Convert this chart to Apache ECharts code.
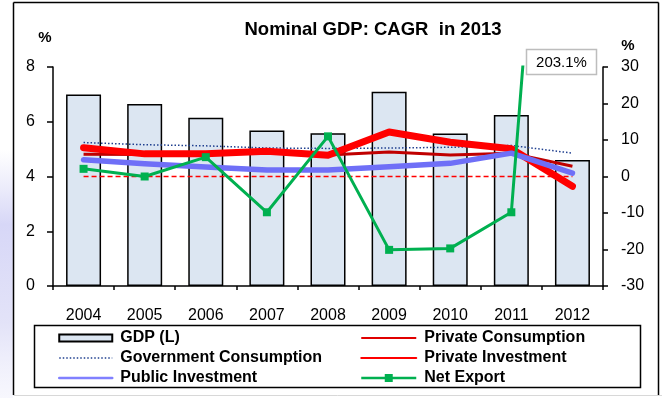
<!DOCTYPE html>
<html>
<head>
<meta charset="utf-8">
<script src="https://cdn.jsdelivr.net/npm/echarts@6/dist/echarts.min.js"></script>
<style>
  html, body { margin: 0; padding: 0; background: #fff; }
  #chart { width: 662px; height: 398px; }
</style>
</head>
<body>
<div id="chart"></div>
<script>
// Years on the horizontal axis
const years = ['2004', '2005', '2006', '2007', '2008', '2009', '2010', '2011', '2012'];

// GDP growth, left axis (%)
const gdp = [7.0, 6.65, 6.15, 5.68, 5.58, 7.1, 5.57, 6.25, 4.6];

// Components, right axis (%)
const govConsumption = [9.3, 8.7, 8.4, 7.8, 7.7, 7.8, 8.0, 8.5, 6.4];
const privConsumption = [6.1, 6.0, 6.0, 6.6, 5.9, 6.7, 5.9, 6.4, 2.8];
const privInvestment = [7.9, 6.2, 6.2, 6.9, 5.8, 12.2, 9.4, 7.6, -2.7];
const pubInvestment = [4.6, 3.5, 2.6, 1.8, 1.8, 2.7, 3.6, 6.4, 0.9];
const netExport = [2.1, 0.0, 5.3, -9.8, 11.0, -20.1, -19.7, -9.8, 203.1];
const zeroRef = [0, 0, 0, 0, 0, 0, 0, 0, 0];

// Axis ticks
const leftTicks = { min: 0, max: 8, interval: 2 };
const rightTicks = { min: -30, max: 30, interval: 10 };

const chart = echarts.init(document.getElementById('chart'), null, { renderer: 'canvas' });

const FONT = 'Liberation Sans, Arial, sans-serif';
const axisText = { color: '#000', fontSize: 16, fontFamily: FONT };
const legendText = { color: '#000', fontSize: 16, fontWeight: 'bold', fontFamily: FONT, lineHeight: 20, padding: [0, 0, 0, 3] };
const noMarker = { opacity: 0 };

const outlierIdx = netExport.length - 1;

chart.setOption({
  animation: false,
  backgroundColor: '#fff',
  textStyle: { fontFamily: FONT },
  grid: { left: 53, right: 59, top: 67, bottom: 112, containLabel: false },
  xAxis: {
    type: 'category',
    data: years,
    boundaryGap: true,
    axisLine: { lineStyle: { color: '#000', width: 1.5 } },
    axisTick: { show: true, alignWithLabel: false, length: 4, lineStyle: { color: '#000', width: 1.5 } },
    axisLabel: Object.assign({ margin: 22, interval: 0 }, axisText),
    splitLine: { show: false }
  },
  yAxis: [
    {
      type: 'value',
      position: 'left',
      min: leftTicks.min, max: leftTicks.max, interval: leftTicks.interval,
      axisLine: { show: true, lineStyle: { color: '#000', width: 1.5 } },
      axisTick: { show: true, length: 6, lineStyle: { color: '#000', width: 1.5 } },
      axisLabel: Object.assign({ margin: 18 }, axisText),
      splitLine: { show: false }
    },
    {
      type: 'value',
      position: 'right',
      min: rightTicks.min, max: rightTicks.max, interval: rightTicks.interval,
      axisLine: { show: true, lineStyle: { color: '#000', width: 1.5 } },
      axisTick: { show: true, length: 5, lineStyle: { color: '#000', width: 1.5 } },
      axisLabel: Object.assign({ margin: 18 }, axisText),
      splitLine: { show: false }
    }
  ],
  legend: [
    {
      orient: 'vertical',
      left: 58, top: 328, padding: 0,
      itemWidth: 53, itemHeight: 7, itemGap: 0,
      textStyle: legendText,
      data: [
        { name: 'GDP (L)', icon: 'rect' },
        { name: 'Government Consumption', lineStyle: { width: 1.5 }, itemStyle: noMarker },
        { name: 'Public Investment', lineStyle: { width: 2.5, color: '#8080ff' }, itemStyle: noMarker }
      ]
    },
    {
      orient: 'vertical',
      left: 360, top: 328, padding: 0,
      itemWidth: 55, itemHeight: 10, itemGap: 0,
      textStyle: legendText,
      data: [
        { name: 'Private Consumption', lineStyle: { width: 2, color: '#e00000' }, itemStyle: noMarker },
        { name: 'Private Investment', lineStyle: { width: 2, color: '#ff0000' }, itemStyle: noMarker },
        { name: 'Net Export', lineStyle: { width: 2.5 } }
      ]
    }
  ],
  series: [
    {
      name: 'GDP (L)',
      type: 'bar',
      yAxisIndex: 0,
      data: gdp,
      barWidth: 35,
      itemStyle: { color: '#dce6f2', borderColor: '#000', borderWidth: 1.5 }
    },
    {
      name: 'zero',
      type: 'line',
      yAxisIndex: 1,
      data: zeroRef,
      symbol: 'none',
      silent: true,
      lineStyle: { color: '#ff0000', width: 1.5, type: [5, 3] }
    },
    {
      name: 'Government Consumption',
      type: 'line',
      yAxisIndex: 1,
      data: govConsumption,
      symbol: 'none',
      lineStyle: { color: '#1f3f8f', width: 1.5, type: [1.5, 2] },
      itemStyle: { color: '#1f3f8f' }
    },
    {
      name: 'Private Consumption',
      type: 'line',
      yAxisIndex: 1,
      data: privConsumption,
      symbol: 'none',
      lineStyle: { color: '#c00000', width: 3 },
      itemStyle: { color: '#c00000' }
    },
    {
      name: 'Private Investment',
      type: 'line',
      yAxisIndex: 1,
      data: privInvestment,
      symbol: 'none',
      lineStyle: { color: '#ff0000', width: 7, join: 'round', cap: 'round' },
      itemStyle: { color: '#ff0000' }
    },
    {
      name: 'Public Investment',
      type: 'line',
      yAxisIndex: 1,
      data: pubInvestment,
      symbol: 'none',
      lineStyle: { color: '#6f6ff7', width: 5.5, join: 'round', cap: 'round' },
      itemStyle: { color: '#6f6ff7' }
    },
    {
      name: 'Net Export',
      type: 'line',
      yAxisIndex: 1,
      data: netExport,
      clip: true,
      symbol: 'rect',
      symbolSize: 8,
      lineStyle: { color: '#00b050', width: 3 },
      itemStyle: { color: '#00b050' }
    }
  ],
  graphic: [
    // outer frame
    { type: 'line', shape: { x1: 13.5, y1: 2.5, x2: 13.5, y2: 395 }, style: { stroke: '#000', lineWidth: 1.5 } },
    { type: 'line', shape: { x1: 13.5, y1: 2.5, x2: 658.5, y2: 2.5 }, style: { stroke: '#000', lineWidth: 1.5 } },
    { type: 'line', shape: { x1: 658.5, y1: 2.5, x2: 658.5, y2: 395 }, style: { stroke: '#000', lineWidth: 1.5 } },
    { type: 'line', shape: { x1: 13.5, y1: 395.5, x2: 662, y2: 395.5 }, style: { stroke: '#d8d8d8', lineWidth: 1 } },
    // soft lavender band at the left margin
    {
      type: 'rect', z: -1, silent: true,
      shape: { x: 0, y: 150, width: 12.8, height: 248 },
      style: {
        fill: new echarts.graphic.LinearGradient(0, 0, 0, 1, [
          { offset: 0, color: 'rgba(210,210,245,0)' },
          { offset: 0.3, color: 'rgba(205,205,245,0.8)' },
          { offset: 0.7, color: 'rgba(215,215,245,0.7)' },
          { offset: 1, color: 'rgba(230,230,250,0.3)' }
        ])
      }
    },
    // legend frame
    { type: 'rect', shape: { x: 34.5, y: 325.5, width: 606, height: 62 }, style: { fill: 'none', stroke: '#000', lineWidth: 1.5 }, z: 0 },
    // title
    {
      type: 'text',
      style: { x: 373, y: 30, text: 'Nominal GDP: CAGR  in 2013', font: 'bold 18.5px ' + FONT, fill: '#000', textAlign: 'center', textVerticalAlign: 'middle' }
    },
    // axis unit labels
    { type: 'text', style: { x: 45, y: 38, text: '%', font: 'bold 15px ' + FONT, fill: '#000', textAlign: 'center', textVerticalAlign: 'middle' } },
    { type: 'text', style: { x: 628, y: 46, text: '%', font: 'bold 15px ' + FONT, fill: '#000', textAlign: 'center', textVerticalAlign: 'middle' } },
    // callout for the off-scale Net Export value
    { type: 'rect', shape: { x: 526.5, y: 49.5, width: 70, height: 25 }, style: { fill: '#fff', stroke: '#bdbdbd', lineWidth: 1.5 }, z: 10 },
    {
      type: 'text', z: 11,
      style: { x: 561.5, y: 62.5, text: netExport[outlierIdx].toFixed(1) + '%', font: '15px ' + FONT, fill: '#000', textAlign: 'center', textVerticalAlign: 'middle' }
    }
  ]
});
</script>
</body>
</html>
